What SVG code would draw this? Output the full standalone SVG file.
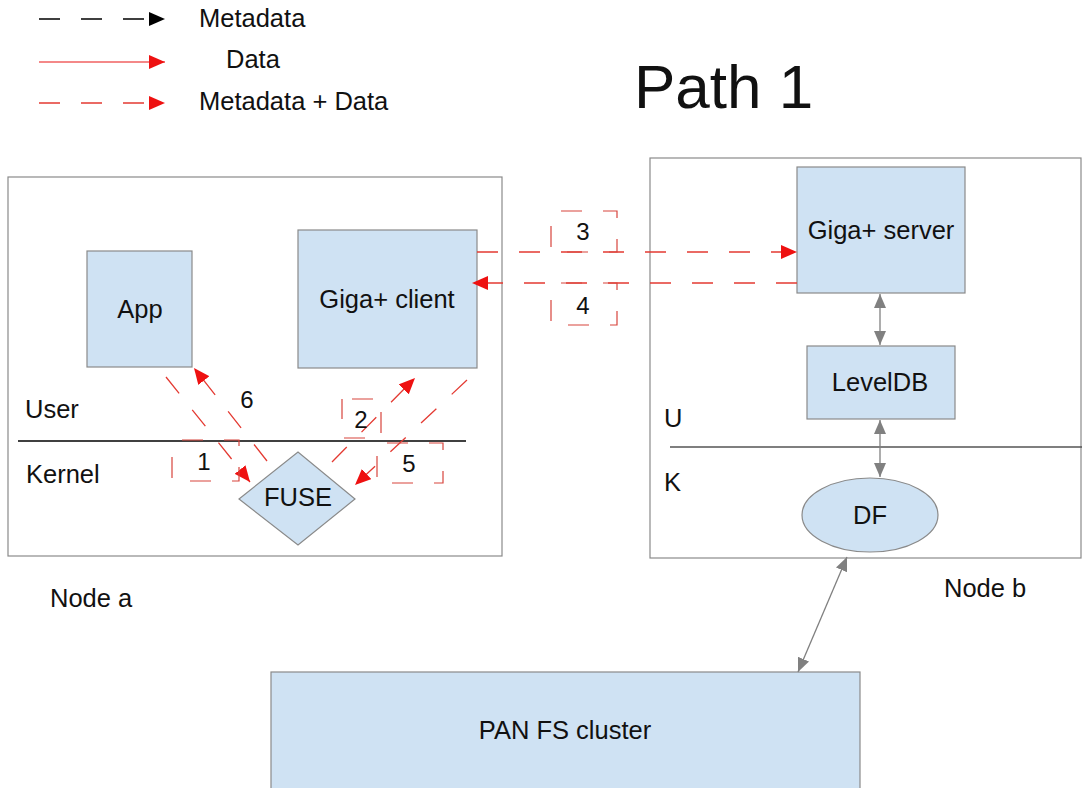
<svg xmlns="http://www.w3.org/2000/svg" width="1082" height="788" viewBox="0 0 1082 788">
<defs>
<style>
text{font-family:"Liberation Sans",Arial,sans-serif;fill:#111;}
.lbl{font-size:25.5px;}
.c{text-anchor:middle;}
.num{font-size:24px;text-anchor:middle;}
.node{fill:#cfe2f3;stroke:#8a8a8a;stroke-width:1.2;}
.frame{fill:#fff;stroke:#8a8a8a;stroke-width:1.2;}
.rd{fill:none;stroke:#e43a32;stroke-width:1.3;stroke-dasharray:21 21;}
.rbox{fill:none;stroke:#d8443c;stroke-width:1.2;stroke-dasharray:21 21;stroke-dashoffset:-10;}
.gr{fill:none;stroke:#808080;stroke-width:1.3;}
</style>
<marker id="ar" markerUnits="userSpaceOnUse" markerWidth="17" markerHeight="14" refX="16" refY="7" orient="auto">
<path d="M0,0 L16,7 L0,14 z" fill="#ee1111"/>
</marker>
<marker id="ak" markerUnits="userSpaceOnUse" markerWidth="17" markerHeight="14" refX="16" refY="7" orient="auto">
<path d="M0,0 L16,7 L0,14 z" fill="#000"/>
</marker>
<marker id="ag" markerUnits="userSpaceOnUse" markerWidth="15" markerHeight="12" refX="14" refY="6" orient="auto-start-reverse">
<path d="M0,0 L14,6 L0,12 z" fill="#808080"/>
</marker>
</defs>
<rect width="1082" height="788" fill="#fff"/>

<g id="legend">
<path d="M39,19 L165,19" fill="none" stroke="#000" stroke-width="1.3" stroke-dasharray="21 21" marker-end="url(#ak)"/>
<text class="lbl" x="199" y="27">Metadata</text>
<path d="M39,62 L165,62" fill="none" stroke="#f06060" stroke-width="1.5" marker-end="url(#ar)"/>
<text class="lbl" x="226" y="68">Data</text>
<path d="M39,103 L165,103" class="rd" marker-end="url(#ar)"/>
<text class="lbl" x="199" y="110">Metadata + Data</text>
</g>

<text x="634" y="108" style="font-size:62px">Path 1</text>

<g id="node-a">
<rect class="frame" x="8" y="177" width="494" height="379"/>
<line x1="18" y1="441" x2="466" y2="441" stroke="#000" stroke-width="1.3"/>
<text class="lbl" x="25" y="418">User</text>
<text class="lbl" x="26" y="483">Kernel</text>
</g>
<text id="label-node-a" class="lbl" x="50" y="607">Node a</text>

<g id="node-b">
<rect class="frame" x="650" y="158" width="431" height="400"/>
<line x1="670" y1="447" x2="1082" y2="447" stroke="#555" stroke-width="1.3"/>
<text class="lbl" x="664" y="427">U</text>
<text class="lbl" x="664" y="491">K</text>
</g>
<text id="label-node-b" class="lbl" x="944" y="597">Node b</text>

<g id="app">
<rect class="node" x="87" y="251" width="105" height="116"/>
<text class="lbl c" x="140" y="318">App</text>
</g>
<g id="giga-client">
<rect class="node" x="298" y="230" width="179" height="138"/>
<text class="lbl c" x="387" y="308">Giga+ client</text>
</g>
<g id="fuse">
<path class="node" d="M239,499 L298,452 L355,499 L298,545 z"/>
<text class="lbl c" x="298" y="506">FUSE</text>
</g>
<g id="giga-server">
<rect class="node" x="797" y="167" width="168" height="126"/>
<text class="lbl c" x="881" y="239">Giga+ server</text>
</g>
<g id="leveldb">
<rect class="node" x="807" y="346" width="148" height="73"/>
<text class="lbl c" x="880" y="391">LevelDB</text>
</g>
<g id="df">
<ellipse class="node" cx="870" cy="515" rx="68" ry="37"/>
<text class="lbl c" x="870" y="524">DF</text>
</g>
<g id="panfs">
<rect class="node" x="271" y="672" width="589" height="120"/>
<text class="lbl c" x="565" y="739">PAN FS cluster</text>
</g>

<g id="connectors">
<path class="rd" d="M477,252 L797,252" marker-end="url(#ar)"/>
<path class="rd" d="M797,283 L472,283" marker-end="url(#ar)"/>
<path class="rd" d="M166,377 L250,482" marker-end="url(#ar)"/>
<path class="rd" d="M267,461 L194,368" marker-end="url(#ar)"/>
<path class="rd" d="M332,462 L415,378" marker-end="url(#ar)"/>
<path class="rd" d="M467,380 L355,485" marker-end="url(#ar)"/>
<path class="gr" d="M880,294 L880,345" marker-start="url(#ag)" marker-end="url(#ag)"/>
<path class="gr" d="M880,420 L880,477" marker-start="url(#ag)" marker-end="url(#ag)"/>
<path class="gr" d="M847,557 L798,672" marker-start="url(#ag)" marker-end="url(#ag)"/>
</g>

<g id="step-labels">
<rect class="rbox" x="172" y="440" width="67" height="41"/>
<text class="num" x="204" y="470">1</text>
<rect class="rbox" x="342" y="399" width="39" height="39"/>
<text class="num" x="361" y="428">2</text>
<rect class="rbox" x="551" y="211" width="66" height="41"/>
<text class="num" x="583" y="240">3</text>
<rect class="rbox" x="551" y="283" width="66" height="42"/>
<text class="num" x="583" y="314">4</text>
<rect class="rbox" x="377" y="443" width="66" height="40"/>
<text class="num" x="409" y="472">5</text>
<text class="num" x="247" y="408">6</text>
</g>
</svg>
